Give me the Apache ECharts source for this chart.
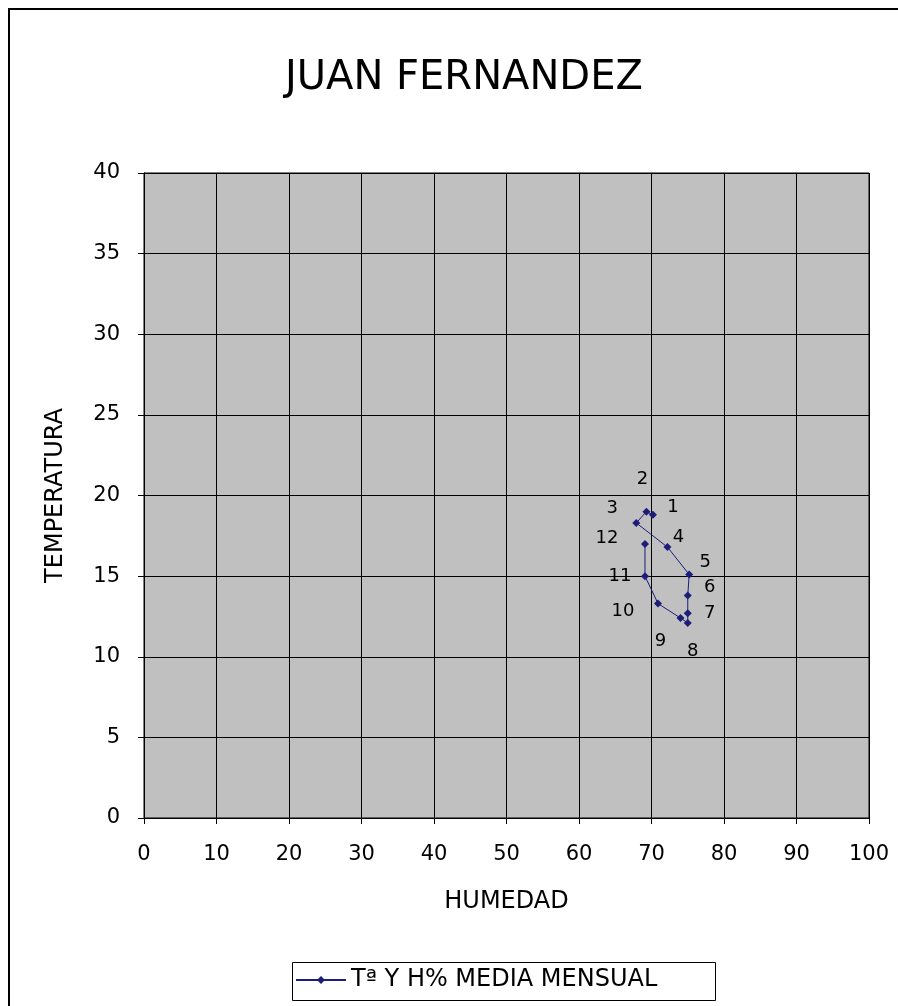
<!DOCTYPE html>
<html><head><meta charset="utf-8">
<script src="https://cdn.jsdelivr.net/npm/echarts@6/dist/echarts.min.js"></script>
<style>html,body{margin:0;padding:0;background:#fff}#c{width:898px;height:1006px}</style>
</head><body><div id="c"></div>
<script>
const title = "JUAN FERNANDEZ";
const seriesName = "Tª Y H% MEDIA MENSUAL";
const xName = "HUMEDAD";
const yName = "TEMPERATURA";
const months = ["1","2","3","4","5","6","7","8","9","10","11","12"];
const humedad = [70.2, 69.3, 67.9, 72.2, 75.2, 75.0, 75.0, 75.0, 74.0, 70.9, 69.1, 69.1];
const temperatura = [18.8, 19.0, 18.3, 16.8, 15.1, 13.8, 12.7, 12.1, 12.4, 13.3, 15.0, 17.0];
const xTicks = [0,10,20,30,40,50,60,70,80,90,100];
const yTicks = [0,5,10,15,20,25,30,35,40];

// label offsets from each point (style only)
const labelOffset = {
  "1":[20,-8], "2":[-4,-32], "3":[-24,-15], "4":[11,-10], "5":[16,-12], "6":[22,-8],
  "7":[22,0], "8":[5,28], "9":[-20,23], "10":[-35,8], "11":[-25,0], "12":[-38,-6]
};

const font = 'DejaVu Sans, Liberation Sans, sans-serif';
const data = months.map((m,i)=>({
  value:[humedad[i], temperatura[i]],
  label:{show:true, formatter:m, position:'inside', offset:labelOffset[m],
    color:'#000', fontSize:18, fontFamily:font}
}));

const chart = echarts.init(document.getElementById('c'), null, {renderer:'canvas'});
chart.setOption({
  animation:false,
  backgroundColor:'#fff',
  graphic:[
    {type:'rect', shape:{x:9,y:9,width:920,height:1020}, style:{fill:'none', stroke:'#000', lineWidth:2}, z:-1},
    {type:'rect', shape:{x:292.5,y:962.5,width:423,height:38}, style:{fill:'#fff', stroke:'#000', lineWidth:1}, z:-1}
  ],
  title:{text:title, left:280, top:54, textStyle:{fontFamily:font, fontSize:40, fontWeight:'normal', color:'#000'}},
  grid:{left:144, right:29, top:173, bottom:188, show:true, backgroundColor:'#c0c0c0', borderColor:'#000', borderWidth:1},
  xAxis:{type:'value', min:0, max:100, interval:10,
    name:xName, nameLocation:'middle', nameGap:72,
    nameTextStyle:{fontFamily:font, fontSize:24, color:'#000'},
    axisLine:{lineStyle:{color:'#000', width:1}},
    axisTick:{show:true, length:6, lineStyle:{color:'#000'}},
    axisLabel:{fontFamily:font, fontSize:21, color:'#000', margin:26,
      formatter:v=>xTicks.includes(v)?String(v):''},
    splitLine:{show:true, lineStyle:{color:'#000', width:1}}},
  yAxis:{type:'value', min:0, max:40, interval:5,
    name:yName, nameLocation:'middle', nameGap:76, nameRotate:90,
    nameTextStyle:{fontFamily:font, fontSize:24, color:'#000'},
    axisLine:{show:true, lineStyle:{color:'#000', width:1}},
    axisTick:{show:true, length:6, lineStyle:{color:'#000'}},
    axisLabel:{fontFamily:font, fontSize:21, color:'#000', margin:24,
      formatter:v=>yTicks.includes(v)?String(v):''},
    splitLine:{show:true, lineStyle:{color:'#000', width:1}}},
  legend:{show:true, top:968, left:292, data:[seriesName],
    itemWidth:50, itemHeight:10, padding:[0,6,0,3],
    borderWidth:0,
    textStyle:{fontFamily:font, fontSize:24, color:'#000'}},
  series:[{
    type:'line', name:seriesName, data:data,
    symbol:'diamond', symbolSize:8,
    itemStyle:{color:'#1c1c7a'},
    lineStyle:{color:'#1c1c7a', width:1},
    label:{show:true}
  }]
});
</script></body></html>
